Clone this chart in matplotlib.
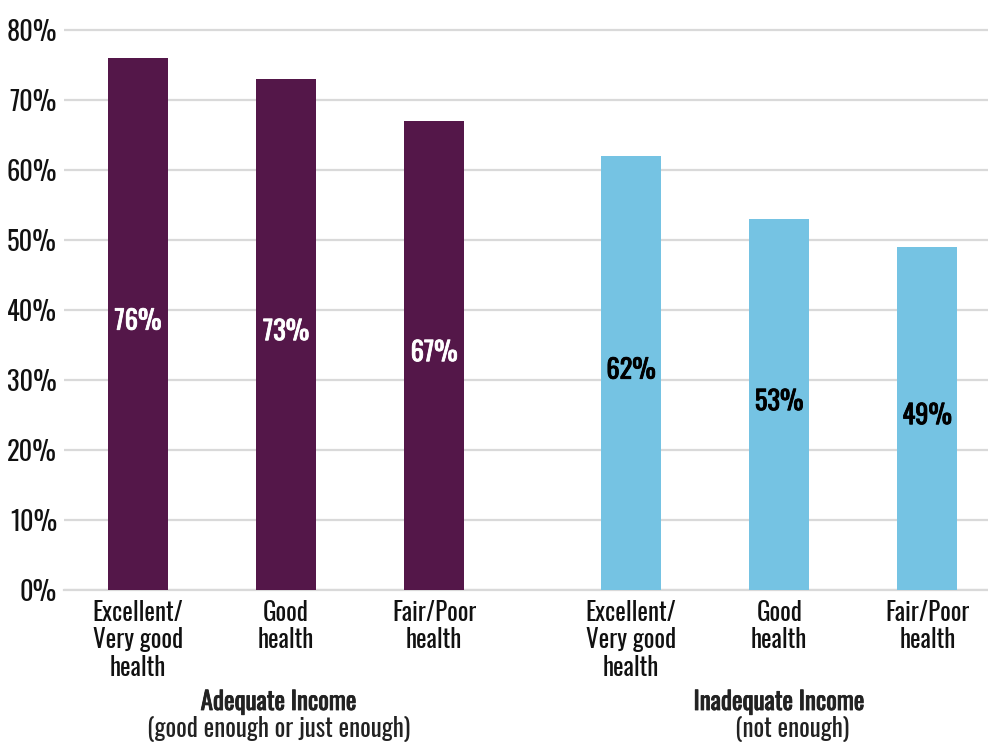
import matplotlib.pyplot as plt
import matplotlib.patheffects as pe

plt.rcParams["font.family"] = ["Oswald", "Barlow Condensed", "DejaVu Sans"]

categories = ["Excellent/\nVery good\nhealth", "Good\nhealth", "Fair/Poor\nhealth"]
adequate = [76, 73, 67]
inadequate = [62, 53, 49]
groups = [("Adequate Income", "(good enough or just enough)"),
          ("Inadequate Income", "(not enough)")]

purple = "#541749"
blue = "#75c3e3"

pos_a = [0, 1, 2]
pos_i = [3.33, 4.33, 5.33]
width = 0.405


def heavy(color):
    # Oswald has only the regular face here, so thicken it with a thin stroke
    return [pe.withStroke(linewidth=0.6, foreground=color)]


fig = plt.figure(figsize=(9.88, 7.44), dpi=100)
# 7 px per percentage point, 0% at y=590, a little headroom above 80%
ax = fig.add_axes([64 / 988, 154 / 744, 1 - 64 / 988, 564 / 744])

ax.bar(pos_a, adequate, width, color=purple, zorder=3)
ax.bar(pos_i, inadequate, width, color=blue, zorder=3)

for x, v in zip(pos_a, adequate):
    ax.text(x, v / 2 + 0.4, f"{v}%", ha="center", va="center", color="white",
            fontsize=19, path_effects=heavy("white"), zorder=4)
for x, v in zip(pos_i, inadequate):
    ax.text(x, v / 2 + 0.4, f"{v}%", ha="center", va="center", color="black",
            fontsize=19, path_effects=heavy("black"), zorder=4)

ax.set_xlim(-0.5, 5.74)
ax.set_ylim(0, 80 + 4 / 7)
ax.set_yticks(range(0, 81, 10))
ax.set_yticklabels([f"{t}%" for t in range(0, 81, 10)], fontsize=19)
ax.set_xticks(pos_a + pos_i)
ax.set_xticklabels(categories * 2, fontsize=18, linespacing=1.08, va="top")
ax.tick_params(axis="both", length=0, labelcolor="#111111")
ax.tick_params(axis="x", pad=7)
ax.tick_params(axis="y", pad=5)

ax.yaxis.grid(True, color="#d9d9d9", linewidth=1.6, zorder=0)
for s in ["top", "right", "left"]:
    ax.spines[s].set_visible(False)
ax.spines["bottom"].set_color("#d9d9d9")
ax.spines["bottom"].set_linewidth(1.6)

# group captions under the category labels
for (title, sub), xc, xs in zip(groups, [0.95, 4.33], [0.95, 4.42]):
    ax.text(xc, -16.0, title, ha="center", va="center", fontsize=18,
            color="#222222", path_effects=heavy("#222222"))
    ax.text(xs, -19.8, sub, ha="center", va="center", fontsize=18,
            color="#222222")

fig.savefig("out.png", dpi=100)
